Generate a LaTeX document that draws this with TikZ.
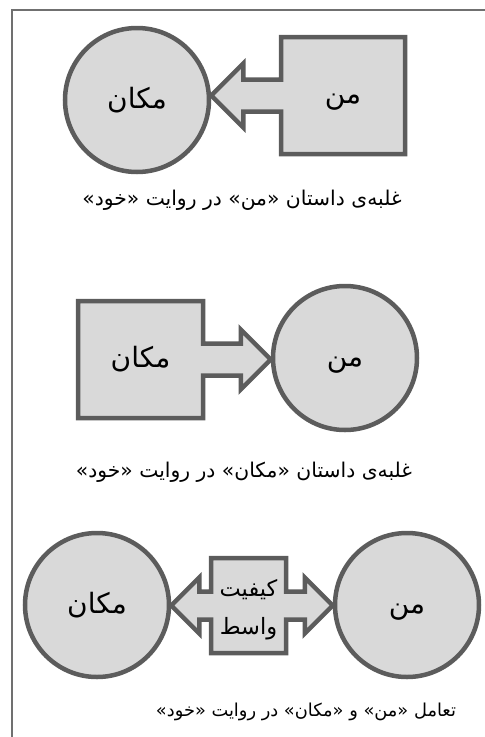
\documentclass[tikz,border=0pt]{standalone}
\usepackage{fontspec}
\newfontfamily\farsi[Script=Arabic]{DejaVu Sans}
\TeXXeTstate=1
\usetikzlibrary{calc,backgrounds}
\definecolor{edgegray}{RGB}{92,92,92}
\definecolor{fillgray}{RGB}{217,217,217}
\definecolor{framegray}{RGB}{112,112,112}
\newcommand{\fa}[1]{\farsi\beginR #1\endR}
\tikzset{
  ring/.style={circle, draw=edgegray, fill=fillgray, line width=4.5pt,
    minimum size=144pt, inner sep=0pt},
  boxlabel/.style={inner sep=0pt, outer sep=0pt},
  outline/.style={draw=edgegray, fill=fillgray, line width=4.5pt, line join=miter},
  caption/.style={font=\fontsize{20.3}{24}\selectfont},
  big/.style={font=\fontsize{28}{32}\selectfont, text height=20pt, text depth=4pt}
}

\begin{document}
\begin{tikzpicture}[x=1pt, y=-1pt]
	\useasboundingbox (0,0) rectangle (485,737);
	\draw[framegray, line width=2pt] (12,737) -- (12,10) -- (485,10);

	% top: man -> makan
	\node[ring, big] (c1) at (137,100) {\fa{مکان}};
	\node[boxlabel, big, minimum width=124pt, minimum height=117pt] (r1) at (343,95.5) {\fa{من}};
	\coordinate (t1) at (c1.east |- r1.west);
	\begin{scope}[on background layer]
		\draw[outline] (r1.north west) -- (r1.north east) -- (r1.south east) -- (r1.south west)
			-- ($(r1.west)+(0,16)$) -- ($(t1)+(32,16)$) -- ($(t1)+(32,32)$) -- (t1)
			-- ($(t1)+(32,-32)$) -- ($(t1)+(32,-16)$) -- ($(r1.west)+(0,-16)$) -- cycle;
	\end{scope}
	\node[caption] (cap1) at (242,200) {\fa{غلبه^^^^200cی داستان «من» در روایت «خود»}};

	% middle: makan -> man
	\node[ring, big] (c2) at (345,358) {\fa{من}};
	\node[boxlabel, big, minimum width=125pt, minimum height=117pt] (r2) at (140.5,359.5) {\fa{مکان}};
	\coordinate (t2) at (c2.west |- r2.east);
	\begin{scope}[on background layer]
		\draw[outline] (r2.north west) -- (r2.north east)
			-- ($(r2.east)+(0,-16)$) -- ($(t2)+(-30,-16)$) -- ($(t2)+(-30,-30)$) -- (t2)
			-- ($(t2)+(-30,30)$) -- ($(t2)+(-30,16)$) -- ($(r2.east)+(0,16)$)
			-- (r2.south east) -- (r2.south west) -- cycle;
	\end{scope}
	\node[caption] (cap2) at (244,472) {\fa{غلبه^^^^200cی داستان «مکان» در روایت «خود»}};

	% bottom: both ways
	\node[ring, big] (cl) at (97,605) {\fa{مکان}};
	\node[ring, big] (cr) at (407,605) {\fa{من}};
	\node[boxlabel, minimum width=75pt, minimum height=95pt, align=center,
		font=\fontsize{22.5}{38}\selectfont, text height=60pt, text depth=3pt]
		(m) at (248.5,605.5) {\fa{کیفیت}\\\fa{واسط}};
	\coordinate (tl) at (cl.east |- m.west);
	\coordinate (tr) at (cr.west |- m.east);
	\begin{scope}[on background layer]
		\draw[outline] (m.north west) -- (m.north east)
			-- ($(m.east)+(0,-14)$) -- ($(tr)+(-28,-14)$) -- ($(tr)+(-28,-28)$) -- (tr)
			-- ($(tr)+(-28,28)$) -- ($(tr)+(-28,14)$) -- ($(m.east)+(0,14)$)
			-- (m.south east) -- (m.south west)
			-- ($(m.west)+(0,14)$) -- ($(tl)+(28,14)$) -- ($(tl)+(28,28)$) -- (tl)
			-- ($(tl)+(28,-28)$) -- ($(tl)+(28,-14)$) -- ($(m.west)+(0,-14)$) -- cycle;
	\end{scope}
	\node[caption, font=\fontsize{17.8}{22}\selectfont] (cap3) at (306,712) {\fa{تعامل «من» و «مکان» در روایت «خود»}};
\end{tikzpicture}
\end{document}
